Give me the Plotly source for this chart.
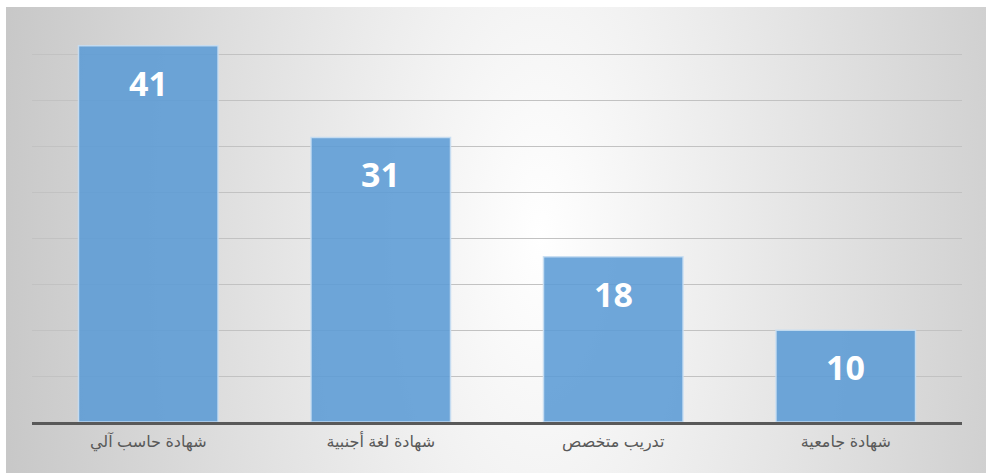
import base64
import plotly.graph_objects as go

# Qualifications and the number of respondents holding each
categories = ["شهادة حاسب آلي", "شهادة لغة أجنبية", "تدريب متخصص", "شهادة جامعية"]
counts = [41, 31, 18, 10]
grid_values = [5, 10, 15, 20, 25, 30, 35, 40]

W, H = 986, 473
L, R, T, B = 32, 24, 9, 51
plot_w = W - L - R
plot_h = H - T - B
EDGE = "#c8c8c8"

# Soft radial grey background for the chart frame, drawn larger than the page
FW, FH = 1300, 700
svg = (
    f"<svg xmlns='http://www.w3.org/2000/svg' width='{FW}' height='{FH}' "
    f"viewBox='0 0 {FW} {FH}' preserveAspectRatio='none'>"
    "<defs><radialGradient id='g' gradientUnits='userSpaceOnUse' cx='534' cy='230' r='540' "
    "gradientTransform='translate(534 230) scale(1 2.2) translate(-534 -230)'>"
    f"<stop offset='0' stop-color='#ffffff'/><stop offset='1' stop-color='{EDGE}'/>"
    "</radialGradient></defs>"
    f"<rect width='{FW}' height='{FH}' fill='url(#g)'/></svg>"
)
bg_src = "data:image/svg+xml;base64," + base64.b64encode(svg.encode()).decode()


def px_x(px):
    return (px - L) / plot_w


def px_y(py):
    return (H - B - py) / plot_h


fx0, fx1 = px_x(6), px_x(6 + FW)
fy_top, fy_bot = px_y(7), px_y(7 + FH)

fig = go.Figure()
fig.add_trace(go.Bar(
    x=categories,
    y=counts,
    marker=dict(color="rgba(91,155,213,0.88)",
                line=dict(color="rgba(200,222,242,0.9)", width=1.5)),
    hoverinfo="skip",
))

for cat, val in zip(categories, counts):
    fig.add_annotation(
        x=cat, y=val, text=f"<b>{val}</b>", showarrow=False,
        yanchor="middle", yshift=-37,
        font=dict(family="Open Sans, Arial, sans-serif", size=34, color="white"),
    )

fig.update_layout(
    width=W, height=H,
    margin=dict(l=L, r=R, t=T, b=B, pad=0),
    paper_bgcolor=EDGE,
    plot_bgcolor="rgba(0,0,0,0)",
    bargap=0.4,
    showlegend=False,
    images=[dict(source=bg_src, xref="paper", yref="paper",
                 x=fx0, y=fy_top, sizex=fx1 - fx0, sizey=fy_top - fy_bot,
                 xanchor="left", yanchor="top", sizing="stretch", layer="below")],
    # White page margin above and left of the chart frame
    shapes=[
        dict(type="rect", xref="paper", yref="paper", layer="below",
             x0=px_x(-5), x1=px_x(W + 300), y0=px_y(7), y1=px_y(-5),
             fillcolor="white", line=dict(width=0)),
        dict(type="rect", xref="paper", yref="paper", layer="below",
             x0=px_x(-5), x1=px_x(6), y0=px_y(H + 300), y1=px_y(-5),
             fillcolor="white", line=dict(width=0)),
    ],
    xaxis=dict(
        showline=True, linecolor="#595959", linewidth=3,
        showgrid=False, ticks="", ticklabelstandoff=3,
        tickfont=dict(family="Arial, DejaVu Sans, sans-serif", size=16, color="#595959"),
        fixedrange=True,
    ),
    yaxis=dict(
        range=[0, 45], tickvals=grid_values, showticklabels=False,
        showgrid=True, gridcolor="#c2c2c2", gridwidth=1.3,
        zeroline=False, showline=False, fixedrange=True,
    ),
)

fig.write_html("out.html", config={"displayModeBar": False})
